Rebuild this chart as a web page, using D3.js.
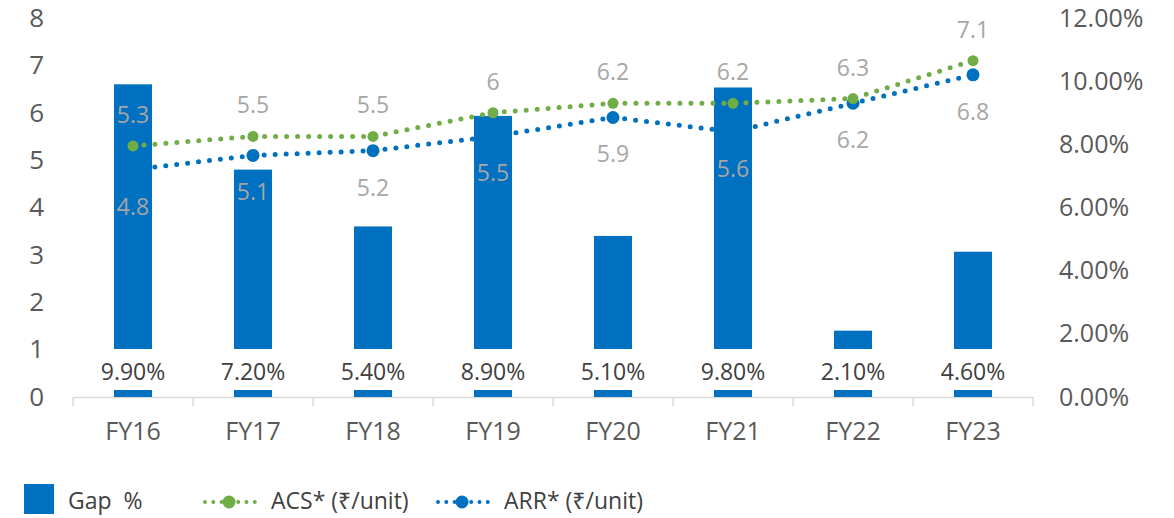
<!DOCTYPE html>
<html>
<head>
<meta charset="utf-8">
<script src="https://cdn.jsdelivr.net/npm/d3@7"></script>
<style>
  body { margin: 0; background: #fff; }
  text { font-family: "Open Sans", "Noto Sans", "DejaVu Sans", sans-serif; }
</style>
</head>
<body>
<script>
// chart values
const years = ["FY16", "FY17", "FY18", "FY19", "FY20", "FY21", "FY22", "FY23"];
const gapPct = [9.9, 7.2, 5.4, 8.9, 5.1, 9.8, 2.1, 4.6];
const acs = [5.3, 5.5, 5.5, 6, 6.2, 6.2, 6.3, 7.1];
const arr = [4.8, 5.1, 5.2, 5.5, 5.9, 5.6, 6.2, 6.8];
const leftTicks = [0, 1, 2, 3, 4, 5, 6, 7, 8];
const rightTicks = [0, 2, 4, 6, 8, 10, 12];

const W = 1174, H = 518;
const blue = "#0070c0", green = "#70ad47";

const svg = d3.select("body").append("svg")
  .attr("width", W)
  .attr("height", H);

const x = d3.scaleBand()
  .domain(years)
  .range([73, 1033])
  .paddingInner(0.683)
  .paddingOuter(0.683 / 2);

const yL = d3.scaleLinear().domain([0, 8]).range([397, 18]);
const yR = d3.scaleLinear().domain([0, 12]).range([397, 18]);
const cx = d => x(d) + x.bandwidth() / 2;

// axes
const gl = svg.append("g")
  .attr("transform", "translate(44,0)")
  .call(d3.axisLeft(yL).tickValues(leftTicks).tickSize(0).tickPadding(0).tickFormat(d3.format("d")));
gl.select(".domain").remove();
gl.selectAll("text").attr("font-size", 26).attr("fill", "#595959").attr("font-family", null);

const gr = svg.append("g")
  .attr("transform", "translate(1059,0)")
  .call(d3.axisRight(yR).tickValues(rightTicks).tickSize(0).tickPadding(0).tickFormat(d => d.toFixed(2) + "%"));
gr.select(".domain").remove();
gr.selectAll("text").attr("font-size", 25).attr("fill", "#595959").attr("font-family", null);

const gb = svg.append("g")
  .attr("transform", "translate(0,397)")
  .call(d3.axisBottom(x).tickSize(0).tickPadding(25));
gb.select(".domain").remove();
gb.selectAll("text").attr("font-size", 25).attr("fill", "#595959").attr("font-family", null);

// baseline with ticks at category boundaries
const step = x.step();
const bounds = years.map(d => cx(d) - step / 2).concat([cx(years[years.length - 1]) + step / 2]);
svg.append("line")
  .attr("x1", bounds[0]).attr("x2", bounds[bounds.length - 1])
  .attr("y1", 397.5).attr("y2", 397.5)
  .attr("stroke", "#d9d9d9").attr("stroke-width", 1.5);
svg.selectAll(".tk").data(bounds).enter().append("line")
  .attr("x1", d => d).attr("x2", d => d)
  .attr("y1", 397).attr("y2", 406)
  .attr("stroke", "#d9d9d9").attr("stroke-width", 1.5);

const lineL = d3.line().x(d => cx(d.year)).y(d => yL(d.v));
const arrData = years.map((y, i) => ({ year: y, v: arr[i] }));
const acsData = years.map((y, i) => ({ year: y, v: acs[i] }));

// ARR line sits behind the bars
svg.append("path")
  .datum(arrData)
  .attr("d", lineL)
  .attr("fill", "none")
  .attr("stroke", blue)
  .attr("stroke-width", 5)
  .attr("stroke-linecap", "round")
  .attr("stroke-dasharray", "0 11");
svg.selectAll(".arrDot").data(arrData).enter().append("circle")
  .attr("cx", d => cx(d.year)).attr("cy", d => yL(d.v))
  .attr("r", 6.5).attr("fill", blue);

// bars
svg.selectAll(".bar").data(gapPct).enter().append("rect")
  .attr("x", (d, i) => x(years[i]))
  .attr("width", x.bandwidth())
  .attr("y", d => yR(d))
  .attr("height", d => yR(0) - yR(d))
  .attr("fill", blue);

// bar value labels with white boxes
const barLab = svg.selectAll(".blab").data(gapPct).enter().append("g");
barLab.append("rect")
  .attr("x", (d, i) => cx(years[i]) - 40)
  .attr("width", 80)
  .attr("y", 349)
  .attr("height", 41)
  .attr("fill", "#fff");
barLab.append("text")
  .attr("x", (d, i) => cx(years[i]))
  .attr("y", 380)
  .attr("text-anchor", "middle")
  .attr("font-size", 23)
  .attr("fill", "#404040")
  .text(d => d.toFixed(2) + "%");

// ACS line in front
svg.append("path")
  .datum(acsData)
  .attr("d", lineL)
  .attr("fill", "none")
  .attr("stroke", green)
  .attr("stroke-width", 5)
  .attr("stroke-linecap", "round")
  .attr("stroke-dasharray", "0 11");
svg.selectAll(".acsDot").data(acsData).enter().append("circle")
  .attr("cx", d => cx(d.year)).attr("cy", d => yL(d.v))
  .attr("r", 5.5).attr("fill", green);

// line labels
svg.selectAll(".acsLab").data(acsData).enter().append("text")
  .attr("x", d => cx(d.year))
  .attr("y", d => yL(d.v) - 23)
  .attr("text-anchor", "middle")
  .attr("font-size", 23)
  .attr("fill", "#a6a6a6")
  .text(d => d.v);
svg.selectAll(".arrLab").data(arrData).enter().append("text")
  .attr("x", d => cx(d.year))
  .attr("y", d => yL(d.v) + 45)
  .attr("text-anchor", "middle")
  .attr("font-size", 23)
  .attr("fill", "#a6a6a6")
  .text(d => d.v);

// legend
const lg = svg.append("g");
lg.append("rect").attr("x", 24).attr("y", 484).attr("width", 30).attr("height", 30).attr("fill", blue);
lg.append("text").attr("x", 68).attr("y", 509).attr("font-size", 23).attr("fill", "#404040")
  .attr("xml:space", "preserve").text("Gap  %");

const legItems = [
  { name: "ACS* (₹/unit)", color: green, x0: 205 },
  { name: "ARR* (₹/unit)", color: blue, x0: 438 }
];
legItems.forEach(it => {
  lg.append("line")
    .attr("x1", it.x0).attr("x2", it.x0 + 50)
    .attr("y1", 502).attr("y2", 502)
    .attr("stroke", it.color).attr("stroke-width", 4)
    .attr("stroke-linecap", "round").attr("stroke-dasharray", "0 8.3");
  lg.append("circle").attr("cx", it.x0 + 24).attr("cy", 502).attr("r", 6.5).attr("fill", it.color);
  lg.append("text").attr("x", it.x0 + 66).attr("y", 509).attr("font-size", 23).attr("fill", "#404040")
    .text(it.name);
});
</script>
</body>
</html>
